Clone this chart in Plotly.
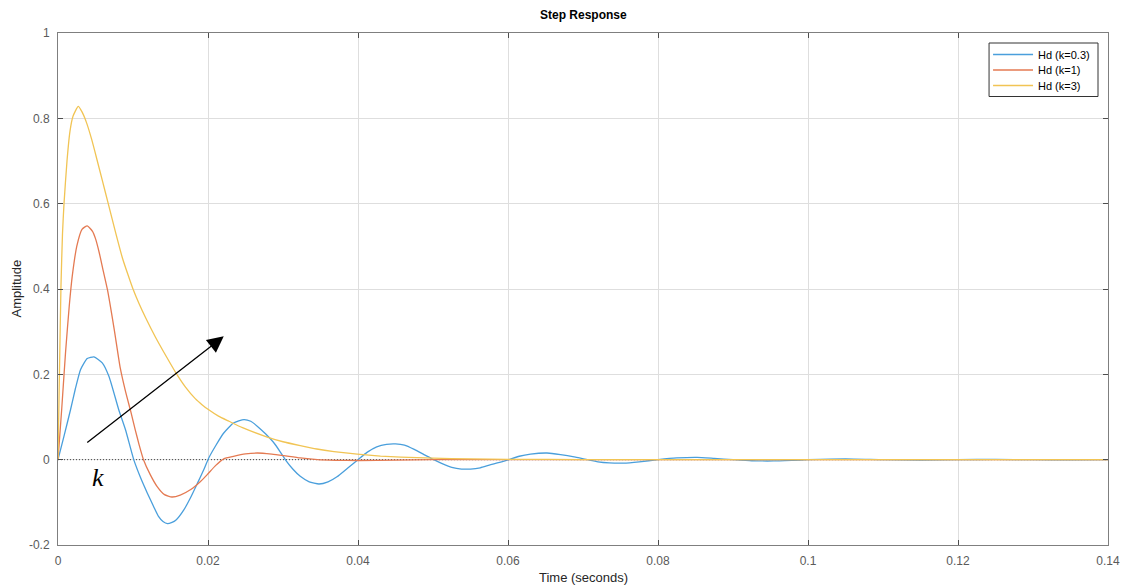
import plotly.graph_objects as go

# Step response samples (time in seconds, amplitude)
t_k03 = [0, 0.0008, 0.00167, 0.0023, 0.003, 0.0039, 0.0048, 0.0059, 0.0068, 0.0081,
         0.0090, 0.0101, 0.0110, 0.0119, 0.0127, 0.0134, 0.0140, 0.0146, 0.0152, 0.0157,
         0.0168, 0.0177, 0.0186, 0.0194, 0.0201, 0.0211, 0.0221, 0.0234, 0.0248, 0.0257,
         0.0266, 0.0277, 0.0288, 0.0296, 0.0303, 0.0313, 0.0323, 0.0335, 0.0348, 0.0360,
         0.0372, 0.0386, 0.0400, 0.0412, 0.0425, 0.0438, 0.0450, 0.0462, 0.0475, 0.0488,
         0.0501, 0.0513, 0.0525, 0.0538, 0.0550, 0.0563, 0.0575, 0.0590, 0.0601, 0.0615,
         0.0630, 0.0652, 0.0670, 0.0690, 0.0706, 0.0720, 0.0735, 0.0754, 0.0775, 0.0800,
         0.0825, 0.0852, 0.0875, 0.0900, 0.0925, 0.0954, 0.0980, 0.1000, 0.1050, 0.1100,
         0.1150, 0.1200, 0.1250, 0.1300, 0.1350, 0.1400]
y_k03 = [0, 0.055, 0.117, 0.165, 0.211, 0.237, 0.241, 0.227, 0.195, 0.117,
         0.07, 0, -0.042, -0.078, -0.108, -0.133, -0.145, -0.150, -0.147, -0.142,
         -0.117, -0.088, -0.055, -0.025, 0.004, 0.035, 0.0625, 0.086, 0.094, 0.090,
         0.078, 0.060, 0.039, 0.019, 0, -0.022, -0.039, -0.052, -0.057, -0.052,
         -0.040, -0.020, 0, 0.017, 0.030, 0.036, 0.037, 0.034, 0.024, 0.012,
         0, -0.010, -0.018, -0.022, -0.022, -0.019, -0.013, -0.006, 0, 0.008,
         0.013, 0.0156, 0.012, 0.006, 0, -0.005, -0.0075, -0.008, -0.005, 0,
         0.004, 0.0055, 0.003, 0, -0.0025, -0.003, -0.0015, 0, 0.002, 0,
         -0.001, 0, 0.0006, 0, -0.0004, 0]

t_k1 = [0, 0.0005, 0.001, 0.0015, 0.0019, 0.0025, 0.0032, 0.0039, 0.0046, 0.0050,
        0.0055, 0.0060, 0.0066, 0.0075, 0.0083, 0.0090, 0.0097, 0.0103, 0.0108, 0.0114,
        0.0123, 0.0132, 0.0142, 0.0152, 0.0163, 0.0177, 0.0190, 0.0199, 0.0210, 0.0221,
        0.0234, 0.0250, 0.0266, 0.0285, 0.0301, 0.0323, 0.0346, 0.0370, 0.0400, 0.0450,
        0.0500, 0.0600, 0.1400]
y_k1 = [0, 0.12, 0.25, 0.36, 0.43, 0.50, 0.54, 0.548, 0.535, 0.518,
        0.485, 0.445, 0.398, 0.305, 0.215, 0.16, 0.113, 0.07, 0.036, 0.0,
        -0.035, -0.0625, -0.082, -0.0875, -0.083, -0.070, -0.051, -0.035, -0.014, 0.002,
        0.0078, 0.0135, 0.0156, 0.013, 0.0094, 0.004, 0, -0.0015, -0.002, -0.001,
        0, 0.0003, 0]

t_k3 = [0, 0.0002, 0.0004, 0.0006, 0.0008, 0.0012, 0.0016, 0.0020, 0.0027, 0.0032,
        0.0038, 0.0045, 0.0052, 0.0059, 0.0067, 0.0077, 0.0086, 0.0093, 0.0100, 0.0108,
        0.0117, 0.0130, 0.0145, 0.0157, 0.0170, 0.0183, 0.0192, 0.0200, 0.0214, 0.0228,
        0.0246, 0.0279, 0.0300, 0.0323, 0.0345, 0.0368, 0.0399, 0.0430, 0.0457, 0.0500,
        0.0550, 0.0600, 0.0700, 0.1400]
y_k3 = [0, 0.21, 0.41, 0.53, 0.60, 0.70, 0.77, 0.805, 0.828, 0.815,
        0.79, 0.75, 0.703, 0.655, 0.60, 0.531, 0.472, 0.435, 0.40, 0.366,
        0.332, 0.287, 0.24, 0.204, 0.17, 0.143, 0.129, 0.118, 0.102, 0.090,
        0.075, 0.053, 0.042, 0.033, 0.025, 0.019, 0.013, 0.0085, 0.006, 0.0035,
        0.0018, 0.0009, 0.0002, 0]

series_names = ["Hd (k=0.3)", "Hd (k=1)", "Hd (k=3)"]
series_colors = ["#4a9fdc", "#e47a52", "#f1c454"]

x_ticks = [0, 0.02, 0.04, 0.06, 0.08, 0.1, 0.12, 0.14]
x_tick_text = ["0", "0.02", "0.04", "0.06", "0.08", "0.1", "0.12", "0.14"]
y_ticks = [-0.2, 0, 0.2, 0.4, 0.6, 0.8, 1]
y_tick_text = ["-0.2", "0", "0.2", "0.4", "0.6", "0.8", "1"]

FONT = "Liberation Sans, Arial, sans-serif"

W, H = 1127, 587
ML, MR, MT, MB = 57.5, 19, 33, 42
PW, PH = W - ML - MR, H - MT - MB


def px_to_paper_x(px):
    return (px - ML) / PW


def py_to_paper_y(py):
    return (H - MB - py) / PH


fig = go.Figure()
for t, y, name, color in zip([t_k03, t_k1, t_k3], [y_k03, y_k1, y_k3],
                             series_names, series_colors):
    fig.add_trace(go.Scatter(
        x=t, y=y, mode="lines", name=name, showlegend=False,
        line=dict(color=color, width=1.3, shape="spline", smoothing=0.5),
    ))

# dotted steady-state reference line at zero
fig.add_shape(type="line", xref="x", yref="y", x0=0, x1=0.14, y0=0, y1=0,
              line=dict(color="#444444", width=1, dash="1px,2px"), layer="between")

# compact boxed legend in the upper-right corner
box_l, box_r, box_t, box_b = 989, 1098, 43, 96.5
fig.add_shape(type="rect", xref="paper", yref="paper",
              x0=px_to_paper_x(box_l), x1=px_to_paper_x(box_r),
              y0=py_to_paper_y(box_b), y1=py_to_paper_y(box_t),
              line=dict(color="#333333", width=1), fillcolor="white", layer="above")
for i, (name, color) in enumerate(zip(series_names, series_colors)):
    row_y = py_to_paper_y(54.5 + 15.5 * i)
    fig.add_shape(type="line", xref="paper", yref="paper",
                  x0=px_to_paper_x(993), x1=px_to_paper_x(1033), y0=row_y, y1=row_y,
                  line=dict(color=color, width=1.3), layer="above")
    fig.add_annotation(x=px_to_paper_x(1036), y=row_y, xref="paper", yref="paper",
                       xanchor="left", yanchor="middle", text=name, showarrow=False,
                       font=dict(family=FONT, size=11, color="black"))

# arrow showing direction of increasing k
fig.add_annotation(x=0.0221, y=0.289, ax=0.0037, ay=0.0375,
                   xref="x", yref="y", axref="x", ayref="y",
                   text="", showarrow=True, arrowhead=2, arrowsize=2.5,
                   arrowwidth=1.3, arrowcolor="black")
fig.add_annotation(x=0.0053, y=-0.042, xref="x", yref="y", text="<i>k</i>",
                   showarrow=False,
                   font=dict(family="Liberation Serif, DejaVu Serif, serif",
                             size=26, color="black"))

# title and axis labels
fig.add_annotation(x=0.5, y=py_to_paper_y(15), xref="paper", yref="paper",
                   xanchor="center", yanchor="middle",
                   text="<b>Step Response</b>", showarrow=False,
                   font=dict(family=FONT, size=12, color="black"))
fig.add_annotation(x=0.5, y=py_to_paper_y(577), xref="paper", yref="paper",
                   xanchor="center", yanchor="middle",
                   text="Time (seconds)", showarrow=False,
                   font=dict(family=FONT, size=13, color="#262626"))
fig.add_annotation(x=px_to_paper_x(15), y=0.5, xref="paper", yref="paper",
                   xanchor="center", yanchor="middle",
                   text="Amplitude", textangle=-90, showarrow=False,
                   font=dict(family=FONT, size=13, color="#262626"))

axis_common = dict(
    showgrid=True, gridcolor="#dedede", gridwidth=1,
    showline=True, linecolor="#7f7f7f", linewidth=1, mirror="allticks",
    ticks="inside", ticklen=5, tickcolor="#4d4d4d",
    tickfont=dict(family=FONT, size=12, color="#5a5a5a"),
    zeroline=False,
)

fig.update_layout(
    width=W, height=H,
    margin=dict(l=ML, r=MR, t=MT, b=MB, autoexpand=False),
    paper_bgcolor="white", plot_bgcolor="white",
    showlegend=False,
    xaxis=dict(range=[0, 0.14], tickvals=x_ticks, ticktext=x_tick_text,
               ticklabelstandoff=5, **axis_common),
    yaxis=dict(range=[-0.2, 1], tickvals=y_ticks, ticktext=y_tick_text,
               ticklabelstandoff=5, **axis_common),
)

fig.write_html("out.html")
